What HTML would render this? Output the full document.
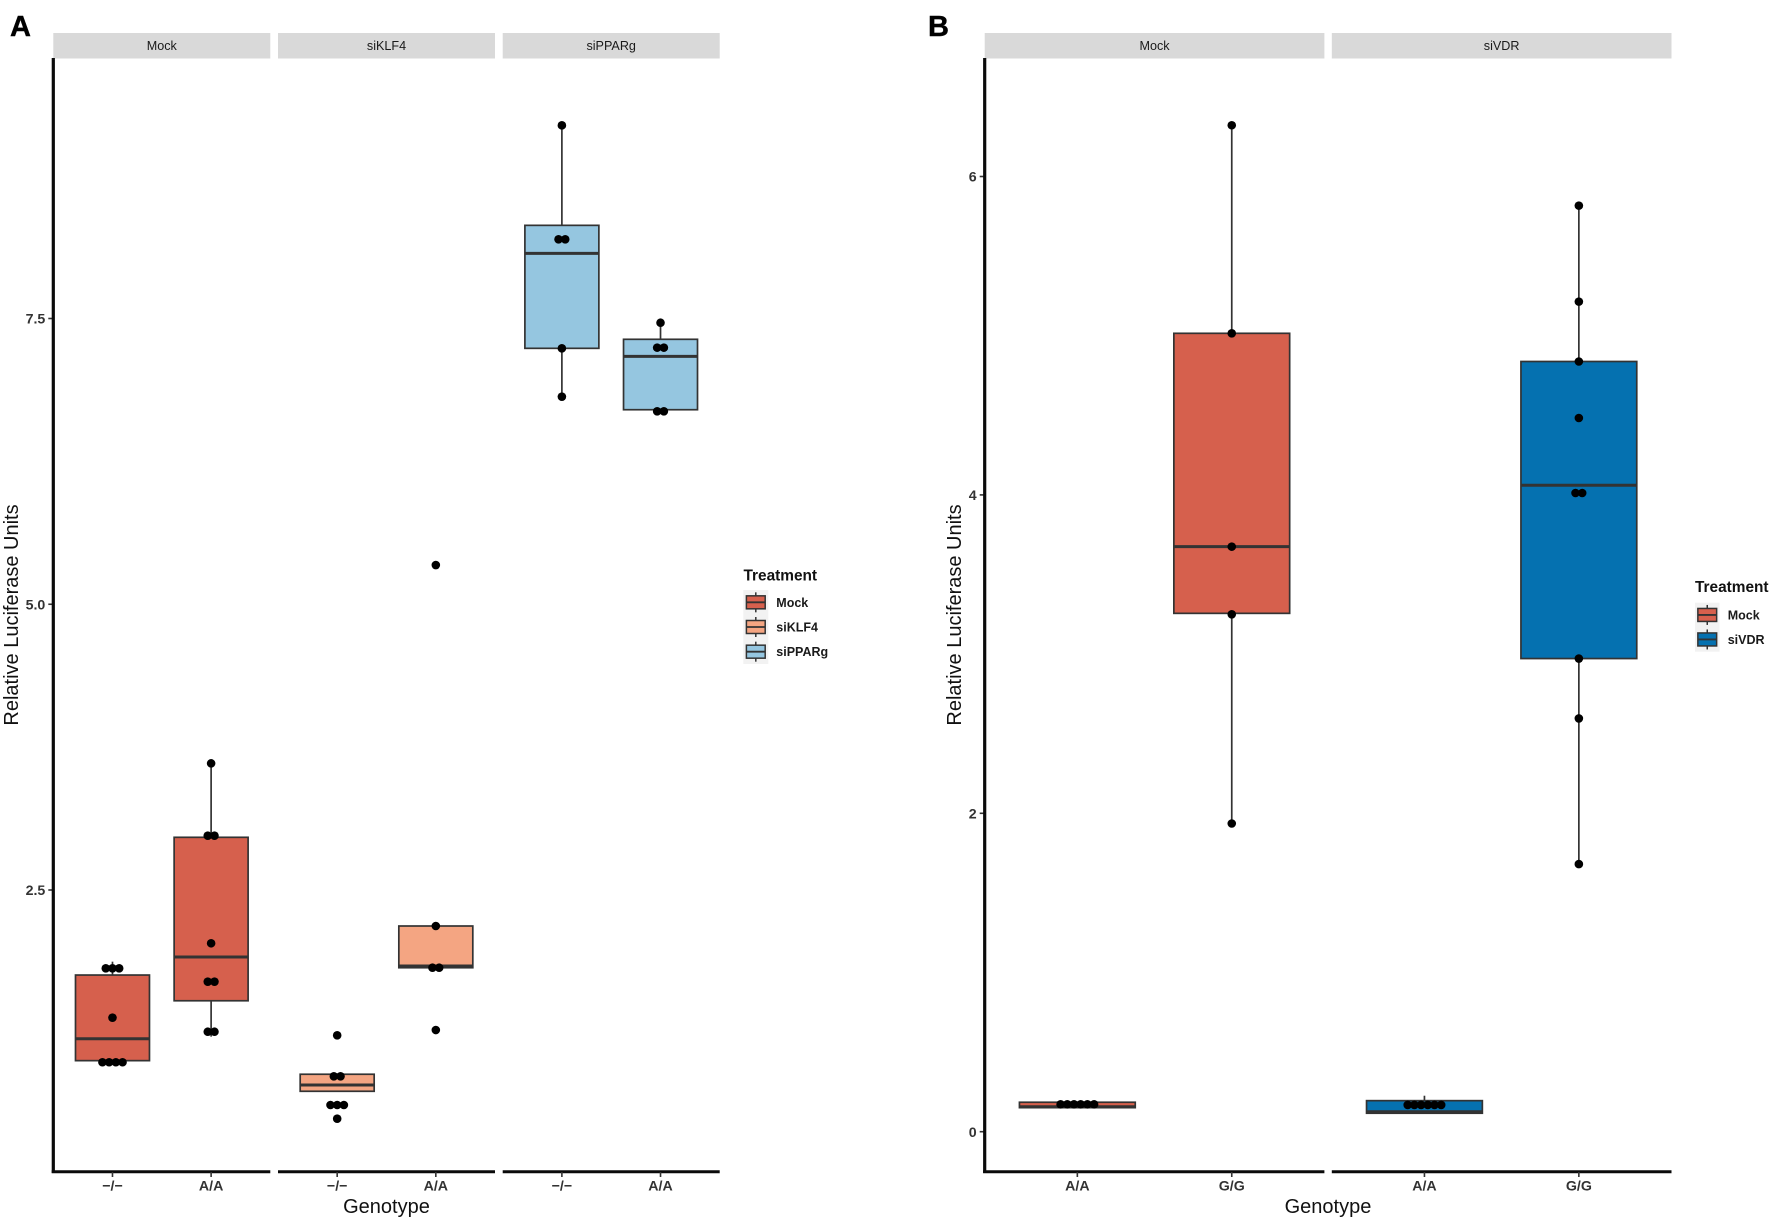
<!DOCTYPE html>
<html lang="en">
<head>
<meta charset="utf-8">
<title>Relative Luciferase Units by Genotype and Treatment</title>
<style>
html,body{margin:0;padding:0;background:#fff;}
svg{display:block;font-family:"Liberation Sans",Arial,sans-serif;}
</style>
</head>
<body>
<svg id="chart" xmlns="http://www.w3.org/2000/svg" width="1772" height="1220" viewBox="0 0 1772 1220">
  <rect x="0" y="0" width="1772" height="1220" fill="#ffffff"/>
  <text x="10" y="36" font-size="29" font-weight="bold" fill="#000" stroke="#000" stroke-width="0.4">A</text>
  <text x="928" y="36" font-size="29" font-weight="bold" fill="#000" stroke="#000" stroke-width="0.4">B</text>
  <text x="386.5" y="1213" font-size="20" text-anchor="middle" fill="#111">Genotype</text>
  <text x="1328" y="1213" font-size="20" text-anchor="middle" fill="#111">Genotype</text>
  <text transform="translate(18 615) rotate(-90)" font-size="20" text-anchor="middle" fill="#111">Relative Luciferase Units</text>
  <text transform="translate(961 615) rotate(-90)" font-size="20" text-anchor="middle" fill="#111">Relative Luciferase Units</text>
  <text x="743.5" y="580.5" font-size="15.4" font-weight="bold" fill="#111">Treatment</text>
  <text x="1695" y="592" font-size="15.4" font-weight="bold" fill="#111">Treatment</text>
  <g id="plots"></g>
</svg>
<script>
// ---------- Panel A data ----------
const panelAFacets = ['Mock', 'siKLF4', 'siPPARg'];
const panelAGenotypes = ['−/−', 'A/A'];
const panelAYTicks = [2.5, 5, 7.5];
const panelAYTickLabels = ['2.5', '5.0', '7.5'];
const panelAQ1 = [1.007, 1.531, 0.739, 1.820, 7.239, 6.702];
const panelAMedian = [1.199, 1.914, 0.794, 1.835, 8.070, 7.169];
const panelAQ3 = [1.756, 2.961, 0.888, 2.185, 8.315, 7.318];
const panelAWhiskerLow = [null, 1.217, null, null, 6.816, null];
const panelAWhiskerHigh = [1.873, 3.608, null, null, 9.190, 7.463];
const panelAPoints = [
  [0.993, 0.993, 0.993, 0.993, 1.383, 1.815, 1.815, 1.815],
  [1.260, 1.260, 1.698, 1.698, 2.034, 2.975, 2.975, 3.608],
  [0.499, 0.619, 0.619, 0.619, 0.870, 0.870, 1.229],
  [1.275, 1.820, 1.820, 2.185, 5.343],
  [6.816, 7.239, 8.193, 8.193, 9.190],
  [6.688, 6.688, 7.245, 7.245, 7.463]
];
const panelALegend = ['Mock', 'siKLF4', 'siPPARg'];

// ---------- Panel B data ----------
const panelBFacets = ['Mock', 'siVDR'];
const panelBGenotypes = ['A/A', 'G/G'];
const panelBYTicks = [0, 2, 4, 6];
const panelBYTickLabels = ['0', '2', '4', '6'];
const panelBQ1 = [0.151, 3.256, 0.116, 2.972];
const panelBMedian = [0.157, 3.675, 0.125, 4.061];
const panelBQ3 = [0.185, 5.015, 0.195, 4.838];
const panelBWhiskerLow = [null, 1.936, null, 1.681];
const panelBWhiskerHigh = [null, 6.322, 0.226, 5.817];
const panelBPoints = [
  [0.172, 0.172, 0.172, 0.172, 0.172, 0.172],
  [1.936, 3.250, 3.675, 5.015, 6.322],
  [0.168, 0.168, 0.168, 0.168, 0.168, 0.168],
  [1.681, 2.596, 2.972, 4.012, 4.012, 4.483, 4.838, 5.214, 5.817]
];
const panelBLegend = ['Mock', 'siVDR'];

// ---------- Colours ----------
const treatmentColors = {Mock: '#D6604D', siKLF4: '#F4A582', siPPARg: '#95C6E0', siVDR: '#0571B0'};

const SVGNS = 'http://www.w3.org/2000/svg';
const plots = document.getElementById('plots');

function mk(tag, attrs, parent) {
  const el = document.createElementNS(SVGNS, tag);
  for (const k in attrs) el.setAttribute(k, attrs[k]);
  parent.appendChild(el);
  return el;
}

function drawPanel(cfg) {
  const yScale = v => cfg.y0 - (v - cfg.v0) * cfg.pxPerUnit;
  const bandX = (f, i) => cfg.facetLeft[f] + cfg.facetWidth * (0.6 + i) / 2.2;
  const boxHalf = cfg.facetWidth / 2.2 * 0.375;

  const g = mk('g', {}, plots);
  
  

  // y axis ticks and labels
  cfg.yTicks.forEach((t, i) => {
    const y = yScale(t);
    const tick = mk('line', {x1: cfg.facetLeft[0] - 5, x2: cfg.facetLeft[0], y1: y, y2: y, stroke: '#333', 'stroke-width': 1.6}, g);
    
    
    const lab = mk('text', {x: cfg.facetLeft[0] - 8, y: y + 5.2, 'font-size': 14.2, 'font-weight': 'bold', 'text-anchor': 'end', fill: '#333'}, g);
    lab.textContent = cfg.yTickLabels[i];
    
    
  });

  // facets
  cfg.facets.forEach((name, f) => {
    const left = cfg.facetLeft[f];
    const strip = mk('rect', {x: left, y: 33, width: cfg.facetWidth, height: 25.5, fill: '#D9D9D9'}, g);
    
    
    const stripText = mk('text', {x: left + cfg.facetWidth / 2, y: 50.2, 'font-size': 12.6, 'text-anchor': 'middle', fill: '#1a1a1a'}, g);
    stripText.textContent = name;
    
    
    const xAxis = mk('line', {x1: f === 0 ? left - 1.6 : left, x2: left + cfg.facetWidth, y1: 1171.8, y2: 1171.8, stroke: '#0a0a0a', 'stroke-width': 3}, g);
    
    

    cfg.genotypes.forEach((gt, i) => {
      const cx = bandX(f, i);
      const tick = mk('line', {x1: cx, x2: cx, y1: 1172, y2: 1177, stroke: '#333', 'stroke-width': 1.6}, g);
      
      
      const lab = mk('text', {x: cx, y: 1190.5, 'font-size': 14.2, 'font-weight': 'bold', 'text-anchor': 'middle', fill: '#333'}, g);
      lab.textContent = gt;
      
      

      const idx = f * cfg.genotypes.length + i;
      const color = treatmentColors[name];
      const q1 = yScale(cfg.q1[idx]);
      const q3 = yScale(cfg.q3[idx]);
      const med = yScale(cfg.median[idx]);

      if (cfg.whiskerHigh[idx] !== null) {
        const wh = mk('line', {x1: cx, x2: cx, y1: q3, y2: yScale(cfg.whiskerHigh[idx]), stroke: '#333', 'stroke-width': 1.7}, g);
        
        
      }
      if (cfg.whiskerLow[idx] !== null) {
        const wl = mk('line', {x1: cx, x2: cx, y1: q1, y2: yScale(cfg.whiskerLow[idx]), stroke: '#333', 'stroke-width': 1.7}, g);
        
        
      }
      const box = mk('rect', {x: cx - boxHalf, y: q3, width: boxHalf * 2, height: q1 - q3, fill: color, stroke: '#333', 'stroke-width': 1.7}, g);
      
      
      const medLine = mk('line', {x1: cx - boxHalf, x2: cx + boxHalf, y1: med, y2: med, stroke: '#333', 'stroke-width': 3}, g);
      
      

      // dots: equal values sit side by side, centred on the category
      const counts = {};
      cfg.points[idx].forEach(v => { counts[v] = (counts[v] || 0) + 1; });
      Object.keys(counts).forEach(key => {
        const n = counts[key];
        for (let k = 0; k < n; k++) {
          const dot = mk('circle', {cx: cx + (k - (n - 1) / 2) * 6.7, cy: yScale(+key), r: 4.3, fill: '#000'}, g);
          
          
        }
      });
    });
  });

  // left axis
  const yAxis = mk('line', {x1: cfg.facetLeft[0], x2: cfg.facetLeft[0], y1: 58, y2: 1173, stroke: '#0a0a0a', 'stroke-width': 3.2}, g);
  
  

  // legend
  const lg = cfg.legendGeom;
  const bg = mk('rect', {x: lg.x, y: lg.y, width: lg.w, height: lg.step * cfg.legend.length, fill: '#F2F2F2'}, g);
  
  
  cfg.legend.forEach((name, i) => {
    const cy = lg.y + lg.step * (i + 0.5);
    const cx = lg.x + lg.w / 2;
    const whisk = mk('line', {x1: cx, x2: cx, y1: cy - 10, y2: cy + 10, stroke: '#333', 'stroke-width': 1.5}, g);
    
    
    const key = mk('rect', {x: cx - 9.4, y: cy - 6.5, width: 18.8, height: 13, fill: treatmentColors[name], stroke: '#333', 'stroke-width': 1.5}, g);
    
    
    const keyMed = mk('line', {x1: cx - 9.4, x2: cx + 9.4, y1: cy, y2: cy, stroke: '#333', 'stroke-width': 1.8}, g);
    
    
    const lab = mk('text', {x: lg.labelX, y: cy + 4.5, 'font-size': 12.5, 'font-weight': 'bold', fill: '#1a1a1a'}, g);
    lab.textContent = name;
    
    
  });
}

drawPanel({
  id: 'panel-a', facets: panelAFacets, genotypes: panelAGenotypes,
  facetLeft: [53.3, 278, 502.7], facetWidth: 217,
  y0: 890, v0: 2.5, pxPerUnit: 114.3,
  yTicks: panelAYTicks, yTickLabels: panelAYTickLabels,
  q1: panelAQ1, median: panelAMedian, q3: panelAQ3,
  whiskerLow: panelAWhiskerLow, whiskerHigh: panelAWhiskerHigh, points: panelAPoints,
  legend: panelALegend,
  legendGeom: {x: 743.3, y: 590, w: 25, step: 24.67, labelX: 776.3}
});

drawPanel({
  id: 'panel-b', facets: panelBFacets, genotypes: panelBGenotypes,
  facetLeft: [984.7, 1331.8], facetWidth: 339.7,
  y0: 1131.7, v0: 0, pxPerUnit: 159.2,
  yTicks: panelBYTicks, yTickLabels: panelBYTickLabels,
  q1: panelBQ1, median: panelBMedian, q3: panelBQ3,
  whiskerLow: panelBWhiskerLow, whiskerHigh: panelBWhiskerHigh, points: panelBPoints,
  legend: panelBLegend,
  legendGeom: {x: 1695, y: 602.7, w: 24.5, step: 24.5, labelX: 1727.7}
});
</script>
</body>
</html>
